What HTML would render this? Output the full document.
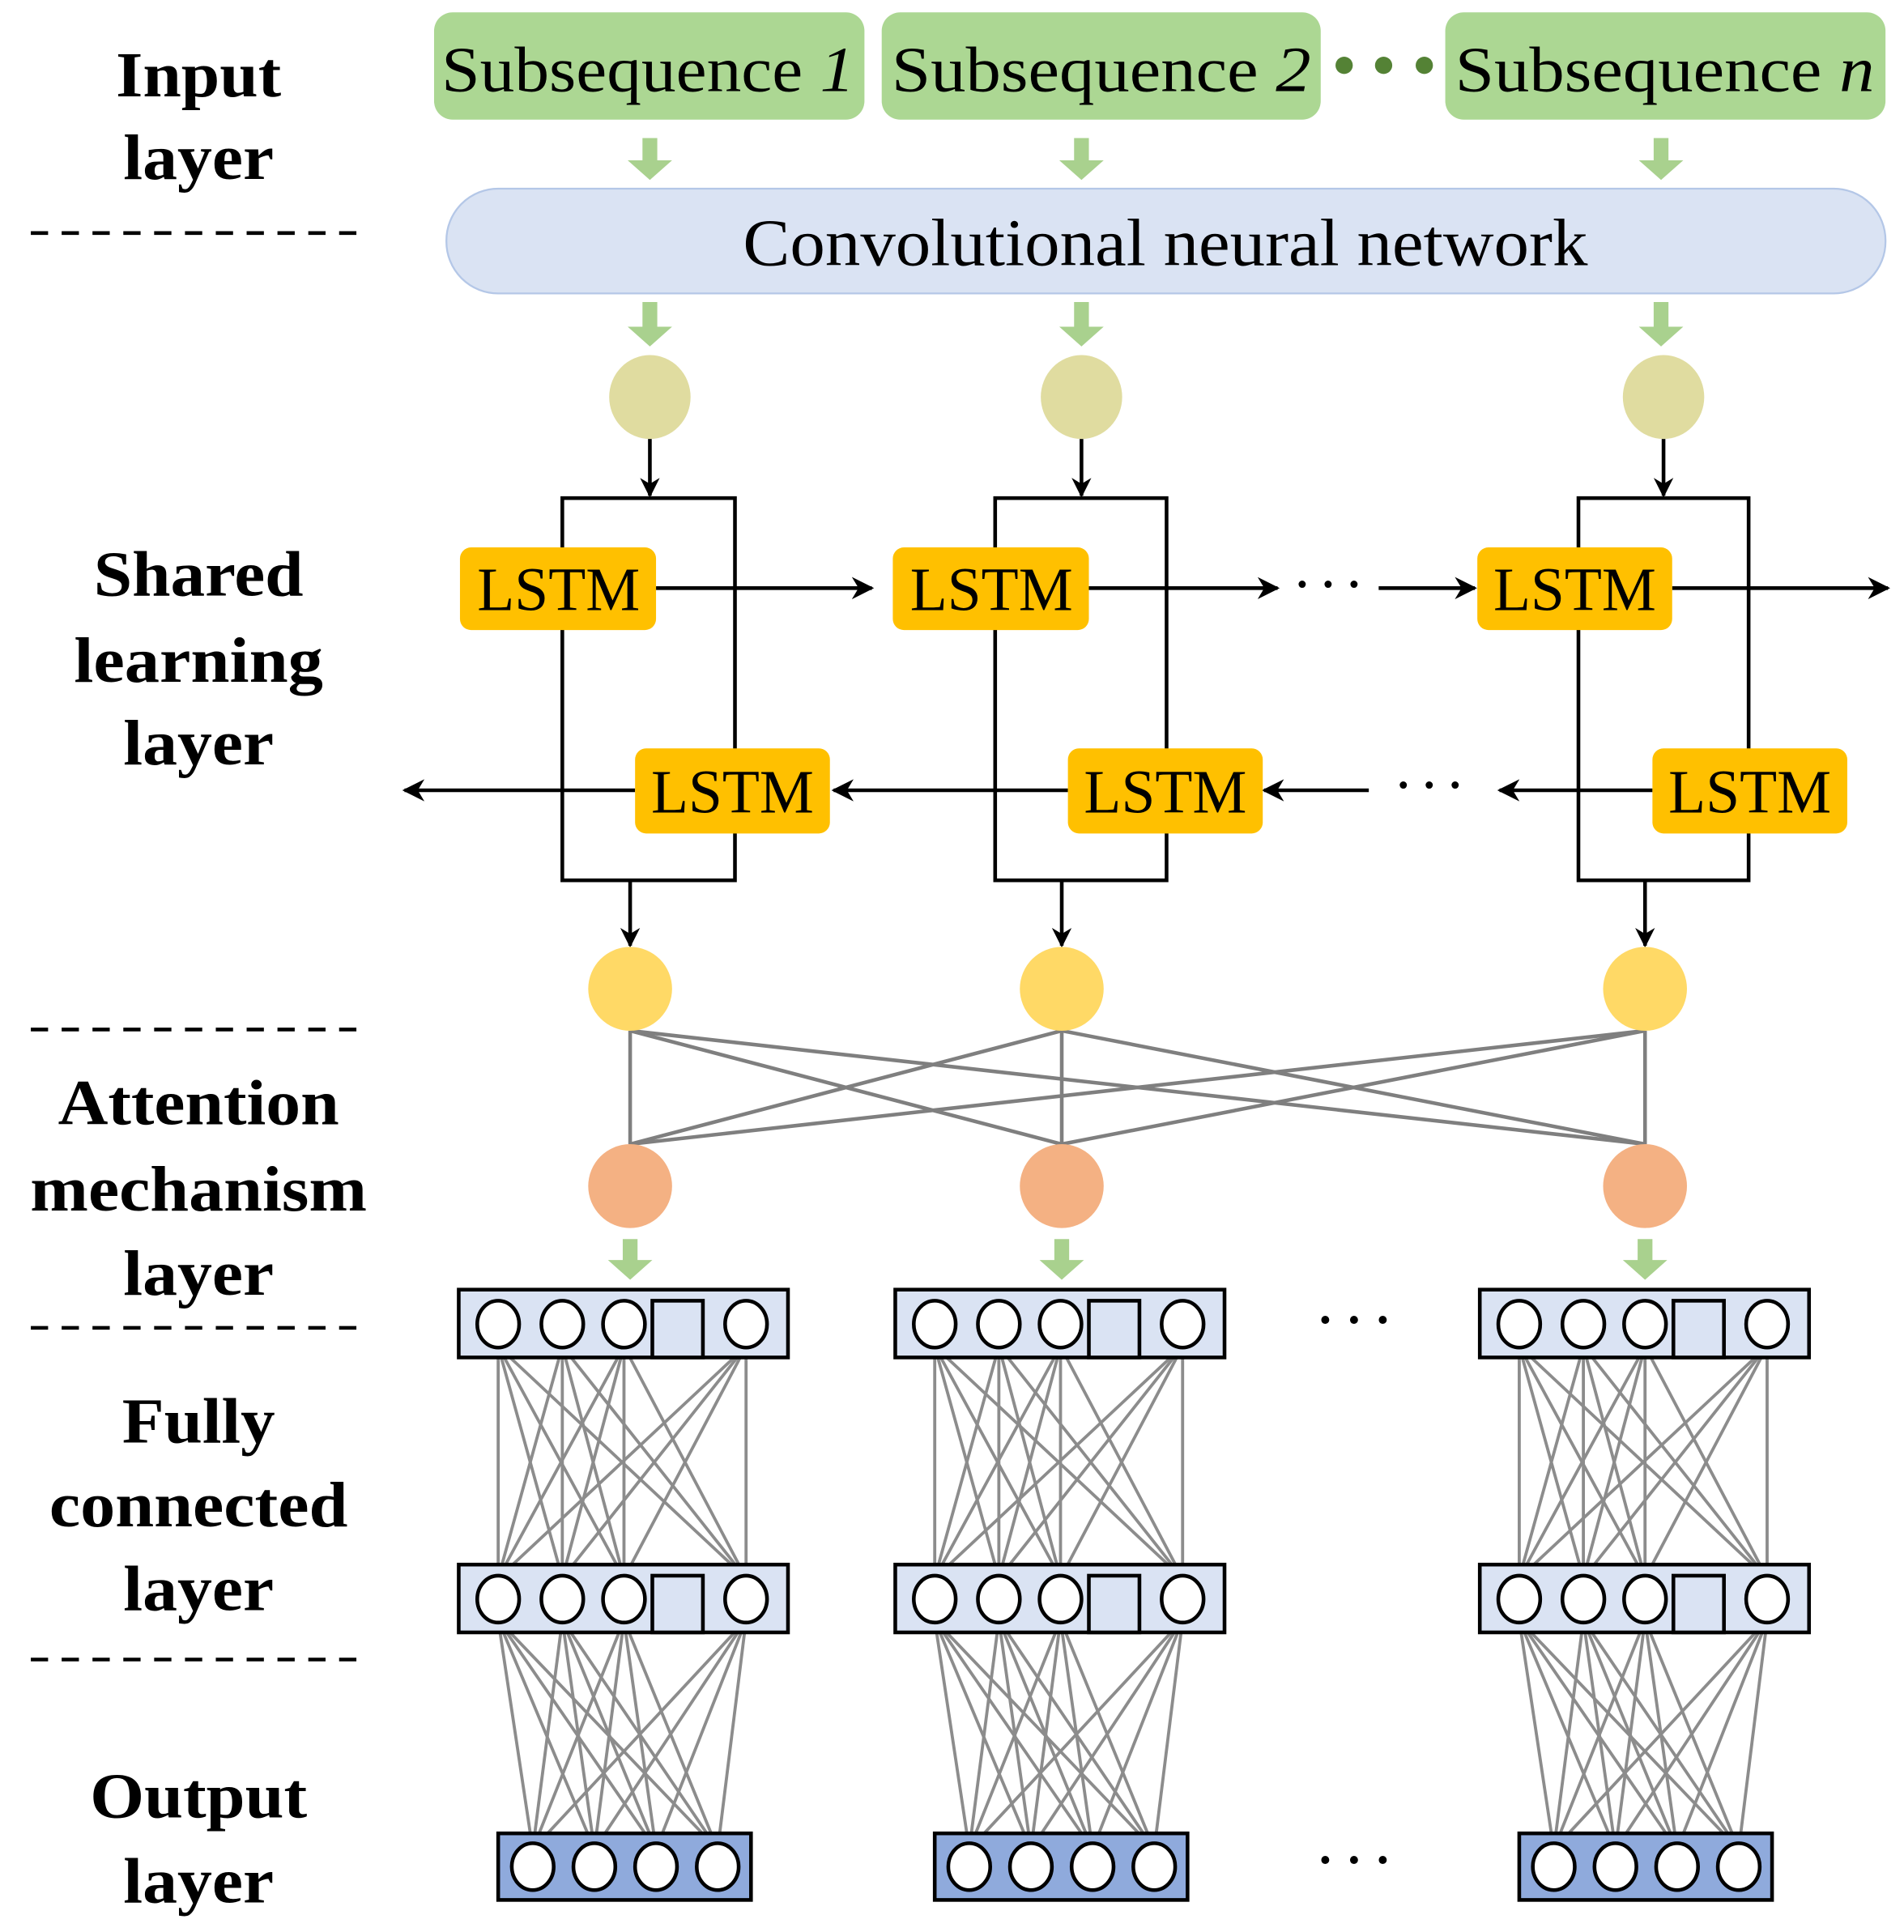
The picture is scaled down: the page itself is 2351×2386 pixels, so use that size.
<!DOCTYPE html>
<html><head><meta charset="utf-8"><style>
html,body{margin:0;padding:0;background:#fff;}
svg{display:block;}
text{font-family:"Liberation Serif",serif;}
.lab{font-weight:bold;font-size:52px;text-anchor:middle;}
</style></head><body>
<svg id="s" width="2351" height="2386" viewBox="0 0 1544 1567" preserveAspectRatio="none" xmlns="http://www.w3.org/2000/svg">
<defs>
<marker id="ah" viewBox="0 0 20 20" refX="18" refY="10" markerWidth="16" markerHeight="16" markerUnits="userSpaceOnUse" orient="auto">
<path d="M0,0 L20,10 L0,20 L6,10 Z" fill="#000"/></marker>
<marker id="ah2" viewBox="0 0 20 20" refX="18" refY="10" markerWidth="18" markerHeight="18" markerUnits="userSpaceOnUse" orient="auto">
<path d="M0,0 L20,10 L0,20 L6,10 Z" fill="#000"/></marker>
</defs>
<g id="lines" stroke="#8c8c8c" stroke-width="2.5"></g>

<!-- left labels -->
<g class="lab" lengthAdjust="spacingAndGlyphs">
<text class="lab" x="161" y="78" textLength="134" lengthAdjust="spacingAndGlyphs">Input</text>
<text class="lab" x="161" y="145" textLength="122" lengthAdjust="spacingAndGlyphs">layer</text>
<text class="lab" x="161" y="483" textLength="170" lengthAdjust="spacingAndGlyphs">Shared</text>
<text class="lab" x="161" y="553" textLength="202" lengthAdjust="spacingAndGlyphs">learning</text>
<text class="lab" x="161" y="620" textLength="122" lengthAdjust="spacingAndGlyphs">layer</text>
<text class="lab" x="161" y="912" textLength="228" lengthAdjust="spacingAndGlyphs">Attention</text>
<text class="lab" x="161" y="982" textLength="273" lengthAdjust="spacingAndGlyphs">mechanism</text>
<text class="lab" x="161" y="1050" textLength="122" lengthAdjust="spacingAndGlyphs">layer</text>
<text class="lab" x="161" y="1170" textLength="124" lengthAdjust="spacingAndGlyphs">Fully</text>
<text class="lab" x="161" y="1238" textLength="242" lengthAdjust="spacingAndGlyphs">connected</text>
<text class="lab" x="161" y="1306" textLength="122" lengthAdjust="spacingAndGlyphs">layer</text>
<text class="lab" x="161" y="1474" textLength="176" lengthAdjust="spacingAndGlyphs">Output</text>
<text class="lab" x="161" y="1543" textLength="122" lengthAdjust="spacingAndGlyphs">layer</text>
</g>
<g stroke="#000" stroke-width="3" stroke-dasharray="14,11">
<line x1="25" y1="189" x2="297" y2="189"/><line x1="25" y1="835" x2="297" y2="835"/>
<line x1="25" y1="1077" x2="297" y2="1077"/><line x1="25" y1="1346" x2="297" y2="1346"/>
</g>

<!-- input boxes -->
<g fill="#acd793">
<rect x="352" y="10" width="349" height="87" rx="15"/>
<rect x="715" y="10" width="356" height="87" rx="15"/>
<rect x="1172" y="10" width="357" height="87" rx="15"/>
</g>
<g font-size="52">
<text x="358" y="74" textLength="335" lengthAdjust="spacingAndGlyphs">Subsequence <tspan font-style="italic">1</tspan></text>
<text x="723" y="74" textLength="340" lengthAdjust="spacingAndGlyphs">Subsequence <tspan font-style="italic">2</tspan></text>
<text x="1180" y="74" textLength="340" lengthAdjust="spacingAndGlyphs">Subsequence <tspan font-style="italic">n</tspan></text>
</g>
<g fill="#548235"><circle cx="1090" cy="53" r="7"/><circle cx="1122" cy="53" r="7"/><circle cx="1155" cy="53" r="7"/></g>

<rect x="362" y="153" width="1167" height="85" rx="42" fill="#dae3f3" stroke="#b4c7e7" stroke-width="1.5"/>
<text x="945" y="215" font-size="54" text-anchor="middle" textLength="685" lengthAdjust="spacingAndGlyphs">Convolutional neural network</text>

<g id="garrows" fill="#a9d18e"></g>

<g fill="#e0dca0"><ellipse cx="527" cy="322" rx="33" ry="34"/><ellipse cx="877" cy="322" rx="33" ry="34"/><ellipse cx="1349" cy="322" rx="33" ry="34"/></g>

<g stroke="#000" stroke-width="3" fill="none">
<rect x="456" y="404" width="140" height="310"/>
<rect x="807" y="404" width="139" height="310"/>
<rect x="1280" y="404" width="138" height="310"/>
<line x1="527" y1="356" x2="527" y2="402" marker-end="url(#ah)"/>
<line x1="877" y1="356" x2="877" y2="402" marker-end="url(#ah)"/>
<line x1="1349" y1="356" x2="1349" y2="402" marker-end="url(#ah)"/>
<line x1="511" y1="714" x2="511" y2="767" marker-end="url(#ah)"/>
<line x1="861" y1="714" x2="861" y2="767" marker-end="url(#ah)"/>
<line x1="1334" y1="714" x2="1334" y2="767" marker-end="url(#ah)"/>
<line x1="532" y1="477" x2="707" y2="477" marker-end="url(#ah2)"/>
<line x1="883" y1="477" x2="1036" y2="477" marker-end="url(#ah2)"/>
<line x1="1118" y1="477" x2="1196" y2="477" marker-end="url(#ah2)"/>
<line x1="1356" y1="477" x2="1531" y2="477" marker-end="url(#ah2)"/>
<line x1="515" y1="641" x2="328" y2="641" marker-end="url(#ah2)"/>
<line x1="866" y1="641" x2="676" y2="641" marker-end="url(#ah2)"/>
<line x1="1110" y1="641" x2="1025" y2="641" marker-end="url(#ah2)"/>
<line x1="1340" y1="641" x2="1216" y2="641" marker-end="url(#ah2)"/>
</g>
<g font-size="36" font-weight="bold"><text x="1050" y="486">· · ·</text><text x="1132" y="649">· · ·</text></g>
<g fill="#ffc000">
<rect x="373" y="444" width="159" height="67" rx="9"/><rect x="724" y="444" width="159" height="67" rx="9"/><rect x="1198" y="444" width="158" height="67" rx="9"/>
<rect x="515" y="607" width="158" height="69" rx="9"/><rect x="866" y="607" width="158" height="69" rx="9"/><rect x="1340" y="607" width="158" height="69" rx="9"/>
</g>
<g font-size="50" text-anchor="middle">
<text x="453" y="495" textLength="132" lengthAdjust="spacingAndGlyphs">LSTM</text><text x="804" y="495" textLength="132" lengthAdjust="spacingAndGlyphs">LSTM</text><text x="1277" y="495" textLength="132" lengthAdjust="spacingAndGlyphs">LSTM</text>
<text x="594" y="659" textLength="132" lengthAdjust="spacingAndGlyphs">LSTM</text><text x="945" y="659" textLength="132" lengthAdjust="spacingAndGlyphs">LSTM</text><text x="1419" y="659" textLength="132" lengthAdjust="spacingAndGlyphs">LSTM</text>
</g>

<g id="att" stroke="#7f7f7f" stroke-width="3"></g>
<g fill="#ffd966"><circle cx="511" cy="802" r="34"/><circle cx="861" cy="802" r="34"/><circle cx="1334" cy="802" r="34"/></g>
<g fill="#f4b183"><circle cx="511" cy="962" r="34"/><circle cx="861" cy="962" r="34"/><circle cx="1334" cy="962" r="34"/></g>

<g id="fc"></g>
<g font-size="40" font-weight="bold"><text x="1068" y="1084">· · ·</text><text x="1068" y="1522">· · ·</text></g>
</svg>
<script>
var NS="http://www.w3.org/2000/svg";
function el(p,t,a){var e=document.createElementNS(NS,t);for(var k in a)e.setAttribute(k,a[k]);p.appendChild(e);return e;}
var G=document.getElementById("garrows");
function garrow(x,y1,y2){el(G,"path",{d:"M"+(x-6)+","+y1+" H"+(x+6)+" V"+(y2-16)+" H"+(x+18)+" L"+x+","+y2+" L"+(x-18)+","+(y2-16)+" H"+(x-6)+" Z"});}
[527,877,1347].forEach(function(x){garrow(x,112,146);garrow(x,245,281);});
[511,861,1334].forEach(function(x){garrow(x,1005,1038);});
var A=document.getElementById("att");var xs=[511,861,1334];
xs.forEach(function(a){xs.forEach(function(b){el(A,"line",{x1:a,y1:836,x2:b,y2:928});});});
var L=document.getElementById("lines"),F=document.getElementById("fc");
[0,354,828].forEach(function(o){
 var c=[404,456,506,605].map(function(v){return v+o;});
 var out=[432,482,532,582].map(function(v){return v+o;});
 c.forEach(function(a){c.forEach(function(b){el(L,"line",{x1:a,y1:1092,x2:b,y2:1280});});});
 c.forEach(function(a){out.forEach(function(b){el(L,"line",{x1:a,y1:1314,x2:b,y2:1500});});});
 [1046,1269].forEach(function(y){
  el(F,"rect",{x:372+o,y:y,width:267,height:55,fill:"#dae3f3",stroke:"#000","stroke-width":3});
  c.forEach(function(cx){el(F,"ellipse",{cx:cx,cy:y+28,rx:17,ry:19,fill:"#fff",stroke:"#000","stroke-width":3});});
  el(F,"rect",{x:529+o,y:y+9,width:41,height:46,fill:"#dae3f3",stroke:"#000","stroke-width":3});
 });
 el(F,"rect",{x:404+o,y:1487,width:205,height:54,fill:"#8faadc",stroke:"#000","stroke-width":3});
 out.forEach(function(cx){el(F,"ellipse",{cx:cx,cy:1514,rx:17,ry:19,fill:"#fff",stroke:"#000","stroke-width":3});});
});
</script>
</body></html>
